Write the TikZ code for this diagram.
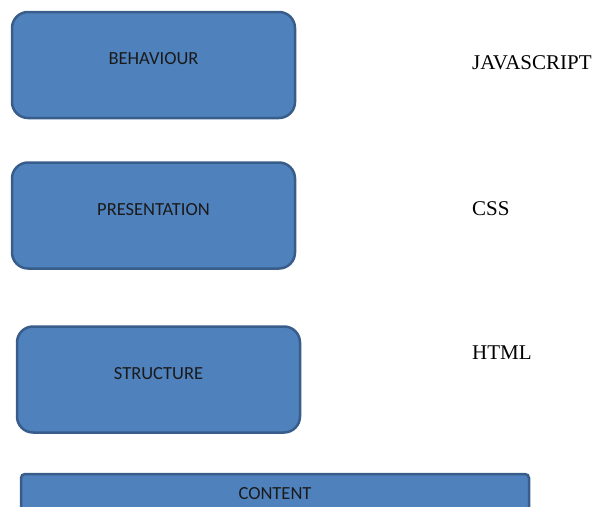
\documentclass[tikz,border=0pt]{standalone}
\usepackage{fontspec}
\setmainfont{Liberation Serif}
\newfontfamily\boxfont{Carlito}
\definecolor{boxfill}{HTML}{4F81BD}
\definecolor{boxline}{HTML}{385D8A}
\definecolor{boxtext}{HTML}{1A1A1A}
\newcommand{\up}[1]{\raisebox{6pt}[\height][\depth]{#1}}
\begin{document}
\begin{tikzpicture}[x=1pt,y=-1pt,
  layer/.style={draw=boxline, fill=boxfill, line width=2.5pt, rounded corners=16pt,
    minimum width=283pt, minimum height=106pt, inner sep=0pt, text=boxtext,
    font=\boxfont\fontsize{18.5}{20}\selectfont},
  tech/.style={anchor=west, inner sep=0pt, font=\fontsize{21}{24}\selectfont}]
\useasboundingbox (0,0) rectangle (594,506);
\clip (0,0) rectangle (594,506);
\node[layer] (behaviour) at (153.5,65) {\up{BEHAVIOUR}};
\node[layer] (presentation) at (153.5,215.5) {\up{PRESENTATION}};
\node[layer] (structure) at (158.5,379.5) {\up{STRUCTURE}};
\node[layer, rounded corners=4pt, minimum width=508pt, minimum height=90pt] (contentbox) at (275,519) {};
\node[inner sep=0pt, text=boxtext, font=\boxfont\fontsize{18.5}{20}\selectfont] (content) at (275,494) {CONTENT};
\node[tech] (js) at (472,63) {JAVASCRIPT};
\node[tech] (css) at (472,209) {CSS};
\node[tech] (html) at (472,353) {HTML};
\end{tikzpicture}
\end{document}
